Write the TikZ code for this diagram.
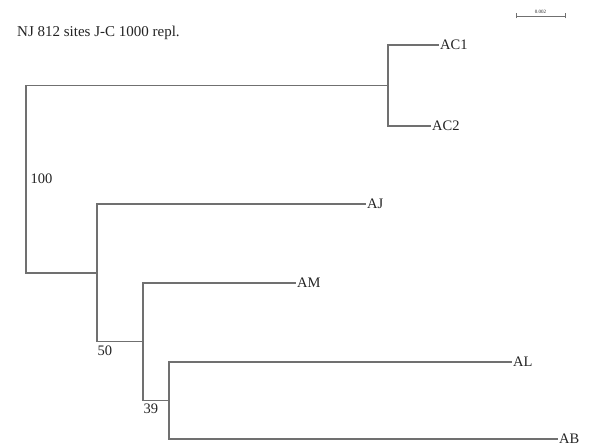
\documentclass[tikz,border=0pt]{standalone}
\usepackage{fontspec}
\setmainfont{Liberation Serif}
\definecolor{branchgray}{RGB}{112,112,112}
\definecolor{labelgray}{RGB}{35,35,35}

\begin{document}
\begin{tikzpicture}[x=1pt, y=-1pt,
    branch/.style={draw=branchgray, line width=1.2pt},
    leaf/.style={anchor=west, inner sep=1pt, text=labelgray, font=\fontsize{14.5}{16}\selectfont},
    boot/.style={anchor=north west, inner sep=0pt, text=labelgray, font=\fontsize{14.5}{16}\selectfont}]

    \useasboundingbox (0,0) rectangle (589,446);

    % Title
    \node[anchor=west, inner sep=0pt, text=labelgray, font=\fontsize{15}{17}\selectfont] (title) at (17,33) {NJ 812 sites J-C 1000 repl.};

    % Scale bar
    \coordinate (sbL) at (516,16);
    \coordinate (sbR) at (565,16);
    \draw[branch, line width=0.8pt] (sbL) -- (sbR);
    \draw[branch, line width=0.8pt] ([yshift=-2.5pt]sbL) -- ([yshift=2.5pt]sbL);
    \draw[branch, line width=0.8pt] ([yshift=-2.5pt]sbR) -- ([yshift=2.5pt]sbR);
    \node[inner sep=0pt, text=labelgray, font=\fontsize{5}{6}\selectfont] (sblabel) at (540.5,11.5) {0.002};

    % Inner nodes
    \coordinate (root) at (26,179.5);
    \coordinate (nAC) at (388,85.5);
    \coordinate (nA) at (97,273);
    \coordinate (nB) at (143,341.5);
    \coordinate (nC) at (169,400.5);

    % Leaves
    \node[leaf] (ac1) at (439,45) {AC1};
    \node[leaf] (ac2) at (431,126) {AC2};
    \node[leaf] (aj) at (366,204) {AJ};
    \node[leaf] (am) at (296,283) {AM};
    \node[leaf] (al) at (512,362) {AL};
    \node[leaf] (ab) at (558,439) {AB};

    % Branches
    \draw[branch] (root) |- (nAC);
    \draw[branch] (root) |- (nA);
    \draw[branch] (nAC) |- (ac1.west);
    \draw[branch] (nAC) |- (ac2.west);
    \draw[branch] (nA) |- (aj.west);
    \draw[branch] (nA) |- (nB);
    \draw[branch] (nB) |- (am.west);
    \draw[branch] (nB) |- (nC);
    \draw[branch] (nC) |- (al.west);
    \draw[branch] (nC) |- (ab.west);

    % Bootstrap values
    \node[boot] (b100) at (30.5,174) {100};
    \node[boot] (b50) at (97.5,346) {50};
    \node[boot] (b39) at (143.5,404) {39};

\end{tikzpicture}
\end{document}
